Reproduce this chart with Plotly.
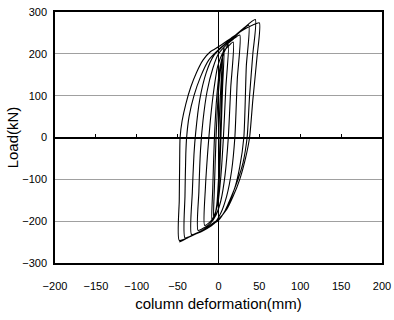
import plotly.graph_objects as go

# Hysteresis path: column deformation (mm) vs load (kN)
deformation = [
    0, 2, 4, 5,
    4, 2, 0, -2, -4, -6,
    -5, -3, 0, 3, 7,
    5, 3, 1, -2, -5, -8,
    -7, -5, -2, 2, 6, 12,
    9, 6, 3, -1, -6, -11, -17,
    -16, -13, -10, -6, -1, 6, 12, 18,
    15, 12, 8, 3, -3, -10, -17, -25,
    -24, -22, -19, -14, -7, 0, 10, 18, 26,
    23, 20, 16, 10, 3, -5, -15, -24, -33,
    -32, -30, -28, -23, -15, -6, 5, 18, 28, 37,
    34, 31, 26, 20, 12, 3, -8, -20, -31, -41,
    -41, -40, -39, -36, -30, -22, -12, 0, 15, 30, 45,
    42, 38, 35, 30, 23, 16, 8, 0, -12, -24, -36, -48,
    -48, -47.5, -47, -44.5, -40, -34, -27, -19, -10, 0, 15, 30, 42, 50,
    47, 42, 38, 33, 26, 18, 10, 0, -12, -25, -38, -48,
]
load = [
    0, 90, 160, 200,
    120, 0, -100, -160, -185, -195,
    -120, 0, 110, 170, 215,
    120, 0, -100, -160, -190, -200,
    -120, 0, 100, 170, 200, 222,
    120, 0, -90, -160, -190, -203, -210,
    -120, -30, 40, 110, 170, 205, 218, 228,
    120, 0, -90, -150, -185, -205, -215, -222,
    -130, -30, 40, 110, 165, 200, 222, 235, 245,
    140, 0, -80, -140, -180, -205, -218, -226, -232,
    -130, -40, 10, 90, 155, 195, 217, 238, 255, 268,
    170, 0, -70, -120, -160, -190, -210, -224, -233, -240,
    -140, -40, 0, 50, 100, 145, 185, 210, 235, 260, 282,
    200, 100, 0, -60, -105, -140, -175, -198, -213, -226, -238, -246,
    -150, -60, 0, 40, 80, 120, 155, 185, 205, 217, 237, 257, 269, 274,
    190, 90, 0, -50, -100, -140, -172, -195, -212, -228, -240, -250,
]

x_ticks = [-200, -150, -100, -50, 0, 50, 100, 150, 200]
y_ticks = [-300, -200, -100, 0, 100, 200, 300]
minor_ticks = [-150, -100, -50, 50, 100, 150]

FONT = "Liberation Sans Narrow, Arial Narrow, Liberation Sans, sans-serif"

fig = go.Figure()
fig.add_trace(go.Scatter(
    x=deformation, y=load, mode="lines",
    line=dict(color="black", width=1.1, shape="spline", smoothing=0.6),
    hoverinfo="skip", showlegend=False,
))
fig.add_trace(go.Scatter(x=[None], y=[None], xaxis="x2", showlegend=False,
                         hoverinfo="skip"))

fig.update_layout(
    width=394, height=320,
    margin=dict(l=55, r=12, t=12, b=57),
    paper_bgcolor="white", plot_bgcolor="white",
    font=dict(family=FONT, color="black", size=11),
    xaxis=dict(
        range=[-200, 200], tickvals=x_ticks, ticks="", automargin=False,
        showgrid=False, zeroline=True, zerolinecolor="black", zerolinewidth=1,
        showline=True, linecolor="black", linewidth=1.5, mirror=True,
        tickfont=dict(size=11, family=FONT), ticklabelstandoff=12,
        title=dict(text="column deformation(mm)", font=dict(size=15, family=FONT), standoff=8),
    ),
    xaxis2=dict(
        range=[-200, 200], overlaying="x", anchor="free", position=0.5, side="top",
        tickvals=minor_ticks, ticks="outside", ticklen=4, tickcolor="black",
        showticklabels=False, showgrid=False, zeroline=False, showline=False,
    ),
    yaxis=dict(
        range=[-300, 300], tickvals=y_ticks, ticks="", automargin=False,
        showgrid=True, gridcolor="#a0a0a0", gridwidth=1,
        zeroline=True, zerolinecolor="black", zerolinewidth=1.5,
        showline=True, linecolor="black", linewidth=1.5, mirror=True,
        tickfont=dict(size=11, family=FONT), ticklabelstandoff=4,
        title=dict(text="Load(kN)", font=dict(size=15, family=FONT), standoff=0),
    ),
)

fig.write_html("out.html")
